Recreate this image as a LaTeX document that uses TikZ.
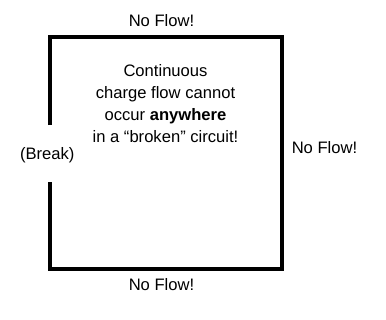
\documentclass[tikz,border=0pt]{standalone}
\usepackage{fontspec}
\setmainfont{Liberation Sans}
\begin{document}
\begin{tikzpicture}[x=1bp,y=-1bp,
  wire/.style={line width=3.3bp,line cap=rect,line join=miter},
  lbl/.style={inner sep=0pt,font=\fontsize{16.6bp}{22bp}\selectfont,align=center}]
\useasboundingbox (0,0) rectangle (386,320);
\coordinate (gt) at (50,125);
\coordinate (tl) at (50,37);
\coordinate (tr) at (282,37);
\coordinate (br) at (282,269);
\coordinate (bl) at (50,269);
\coordinate (gb) at (50,182);
\draw[wire,line cap=butt] (gt) -- (tl) -- (tr) -- (br) -- (bl) -- (gb);
\node[lbl] (top) at (161.5,21) {No Flow!};
\node[lbl] (right) at (324.5,148) {No Flow!};
\node[lbl] (bot) at (161.5,285) {No Flow!};
\node[lbl] (brk) at (47.3,155) {(Break)};
\node[lbl] (msg) at (165.5,103.5) {Continuous\\charge flow cannot\\occur \textbf{anywhere}\\in a “broken” circuit!};
\end{tikzpicture}
\end{document}
